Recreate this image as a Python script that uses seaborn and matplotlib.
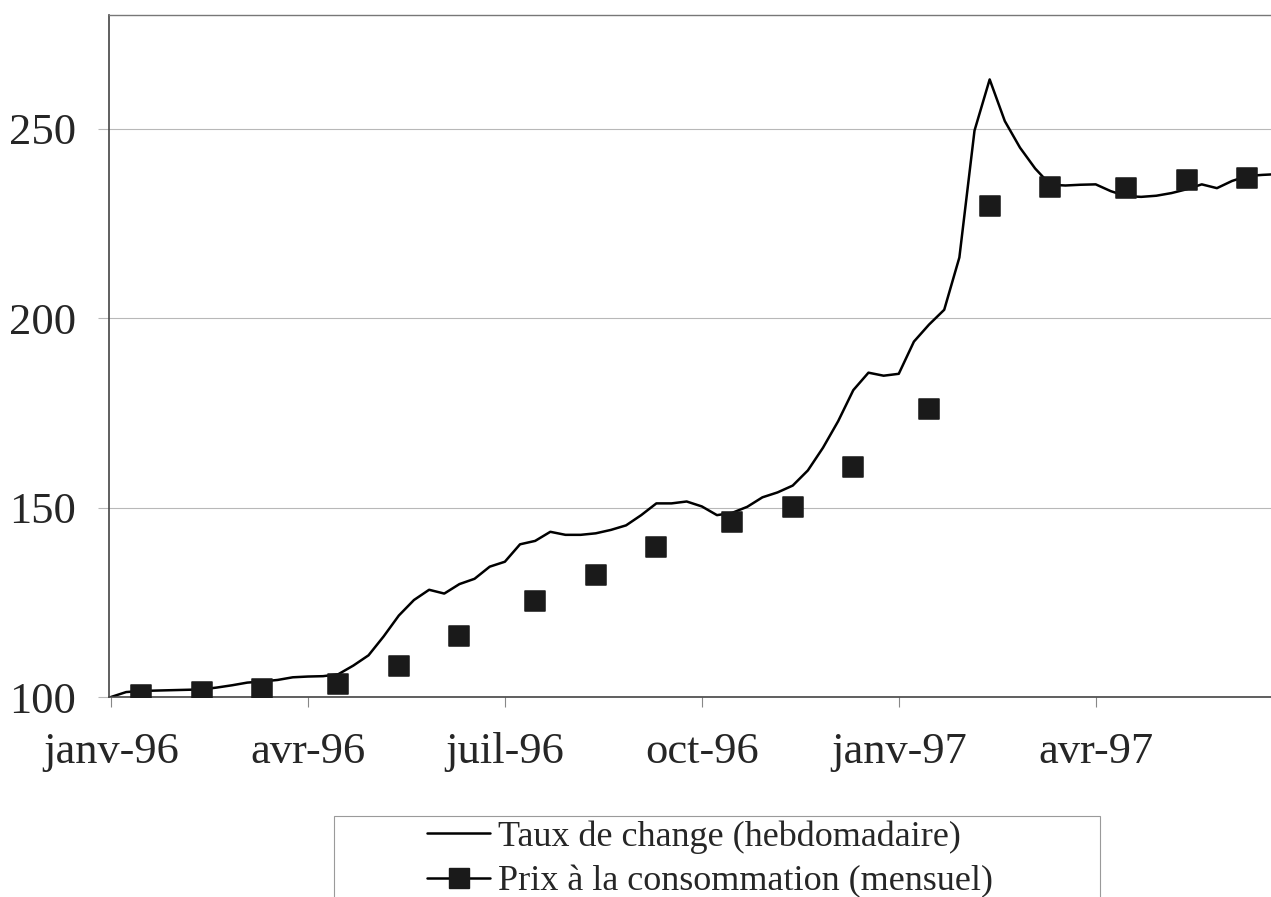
import matplotlib
matplotlib.use("Agg")
import matplotlib.pyplot as plt
from matplotlib.lines import Line2D
from matplotlib.patches import Rectangle
import seaborn as sns
import pandas as pd

# Taux de change hebdomadaire (indice, semaine 0 = janv-96)
semaines = list(range(78))
taux = [100.0, 101.3, 101.6, 101.7, 101.8, 101.9, 102.0, 102.5, 103.1, 103.8,
        104.1, 104.5, 105.2, 105.4, 105.5, 106.0, 108.3, 111.0, 116.0, 121.5,
        125.6, 128.3, 127.3, 129.8, 131.2, 134.4, 135.7, 140.3, 141.2, 143.6,
        142.8, 142.8, 143.2, 144.1, 145.3, 148.0, 151.1, 151.1, 151.6, 150.3,
        148.0, 148.6, 150.2, 152.7, 154.0, 155.8, 159.8, 165.8, 172.8, 181.0,
        185.6, 184.8, 185.3, 193.8, 198.3, 202.2, 216.0, 249.5, 263.0, 252.0,
        245.0, 239.5, 235.2, 235.0, 235.2, 235.3, 233.5, 232.2, 232.0, 232.3,
        233.0, 234.0, 235.3, 234.3, 236.2, 237.5, 237.8, 238.0]

# Prix a la consommation mensuel
semaines_prix = [2, 6, 10, 15, 19, 23, 28, 32, 36, 41, 45, 49, 54, 58, 62, 67, 71, 75]
prix = [100.5, 101.4, 102.0, 103.3, 108.3, 116.2, 125.3, 132.2, 139.5, 146.3,
        150.2, 160.6, 176.1, 229.5, 234.7, 234.3, 236.5, 237.0]

ticks_x = [0, 13, 26, 39, 52, 65]
labels_x = ["janv-96", "avr-96", "juil-96", "oct-96", "janv-97", "avr-97"]
ticks_y = [100, 150, 200, 250]

df_taux = pd.DataFrame({"semaine": semaines, "valeur": taux})
df_prix = pd.DataFrame({"semaine": semaines_prix, "valeur": prix})

sns.set_style("white")
plt.rcParams["font.family"] = ["Liberation Serif", "DejaVu Serif"]

fig = plt.figure(figsize=(12.71, 8.97), dpi=100)
ax = fig.add_axes([109 / 1271, 1 - 697 / 897, (1271 - 109) / 1271, 682 / 897])

sns.lineplot(data=df_taux, x="semaine", y="valeur", color="black", linewidth=1.8, ax=ax)
sns.scatterplot(data=df_prix, x="semaine", y="valeur", marker="s", s=200,
                color="#1a1a1a", edgecolor="#1a1a1a", ax=ax, zorder=3)

ax.set_xlim(-0.13, 76.57)
ax.set_ylim(100, 280)
ax.set_xticks(ticks_x)
ax.set_xticklabels(labels_x)
ax.set_yticks(ticks_y)
ax.set_xlabel("")
ax.set_ylabel("")
ax.grid(axis="y", color="#b8b8b8", linewidth=0.8)
ax.tick_params(axis="x", direction="out", length=7, width=0.8, color="#888888",
               labelsize=32, pad=18, bottom=True)
ax.tick_params(axis="y", direction="out", length=8, width=0.8, color="#b8b8b8",
               labelsize=32, pad=16, left=True)
for s in ["left", "bottom"]:
    ax.spines[s].set_color("#444444")
    ax.spines[s].set_linewidth(1.2)
ax.spines["top"].set_color("#777777")
ax.spines["top"].set_linewidth(1.0)
ax.spines["right"].set_visible(False)

# legende
handles = [
    Line2D([], [], color="black", linewidth=1.8),
    Line2D([], [], color="black", linewidth=1.8, marker="s", markersize=14,
           markerfacecolor="#1a1a1a", markeredgecolor="#1a1a1a"),
]
noms = ["Taux de change (hebdomadaire)", "Prix à la consommation (mensuel)"]
fig.legend(handles, noms, loc="upper left", bbox_to_anchor=(427 / 1271, 1 - 820 / 897),
           frameon=False, fontsize=26, handlelength=1.75, handletextpad=0.22,
           borderpad=0, borderaxespad=0, labelspacing=0.33)
fig.patches.append(Rectangle((334 / 1271, -0.05), (1100 - 334) / 1271, 0.05 + 1 - 816 / 897,
                             transform=fig.transFigure, fill=False,
                             edgecolor="#9a9a9a", linewidth=0.8))

fig.savefig("out.png", dpi=100)
